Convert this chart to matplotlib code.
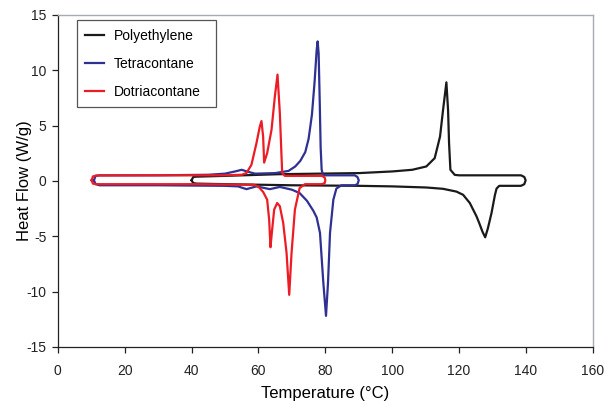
import matplotlib
matplotlib.use("Agg")
import matplotlib.pyplot as plt

plt.rcParams["font.family"] = ["Liberation Sans", "DejaVu Sans"]
plt.rcParams["axes.unicode_minus"] = False

# DSC loops: heating trace (upper) left -> right, then cooling trace (lower) right -> left
pe_temp = [40.0, 40.5, 41.5, 50, 66, 90, 100, 106, 110.2, 112.7, 114.3, 115.2, 116.2,
           116.7, 117.0, 117.4, 118.7, 120, 138.5, 139.5, 139.9, 139.5, 138.5, 132.0,
           131.2, 130.7, 129.7, 128.6, 127.8, 127.0, 126.0, 125.2, 123.2, 121.2, 119.2,
           115.2, 110.2, 100, 90, 70, 50, 41.5, 40.5, 40.0]
pe_flow = [0.05, 0.35, 0.38, 0.45, 0.6, 0.7, 0.85, 1.0, 1.3, 2.05, 4.0, 6.4, 8.9,
           6.4, 3.4, 1.0, 0.54, 0.5, 0.5, 0.35, 0.05, -0.3, -0.45, -0.45,
           -0.7, -1.3, -2.9, -4.3, -5.1, -4.6, -3.8, -3.2, -2.0, -1.26, -0.97,
           -0.72, -0.6, -0.5, -0.45, -0.4, -0.3, -0.25, -0.2, 0.05]

c40_temp = [10.8, 11.3, 12.5, 30, 45, 50, 53, 55, 56.5, 59, 65, 69, 71, 72.5, 74, 75,
            76, 76.8, 77.4, 77.7, 78.0, 78.3, 78.6, 78.9, 79.3, 80, 88.8, 89.6, 90.0,
            89.6, 88.8, 84.8, 83.3, 82.4, 81.4, 80.8, 80.2, 79.4, 78.4, 77.4, 76.4,
            74.5, 72.3, 70, 66.4, 63.4, 59.4, 56.4, 53.9, 50, 30, 12.5, 11.3, 10.8]
c40_flow = [0.05, 0.45, 0.5, 0.5, 0.55, 0.65, 0.85, 1.0, 0.85, 0.65, 0.7, 0.9, 1.3,
            1.8, 2.6, 3.8, 6.0, 9.0, 11.8, 12.6, 11.5, 7.5, 3.0, 1.0, 0.55, 0.5, 0.5,
            0.35, 0.05, -0.3, -0.4, -0.4, -0.7, -1.7, -4.7, -9.2, -12.2, -9.2, -4.7,
            -3.3, -2.7, -1.8, -1.1, -0.8, -0.55, -0.75, -0.5, -0.75, -0.5, -0.45,
            -0.4, -0.4, -0.3, 0.05]

c32_temp = [10.1, 10.5, 11.5, 30, 50, 55, 56.4, 57.9, 59.4, 60.4, 60.9, 61.4, 61.7,
            62.6, 63.9, 64.9, 65.7, 66.4, 66.9, 67.1, 67.9, 79.0, 79.8, 80.0, 79.8,
            79.0, 73.9, 72.3, 70.9, 69.9, 69.2, 68.4, 67.4, 66.4, 65.6, 64.7, 64.0,
            63.6, 63.2, 62.6, 61.4, 59.9, 58.5, 40, 11.5, 10.5, 10.1]
c32_flow = [0.05, 0.4, 0.48, 0.5, 0.5, 0.55, 0.7, 1.45, 3.4, 4.9, 5.4, 4.0, 1.65,
            2.5, 4.6, 7.6, 9.6, 6.1, 2.2, 0.7, 0.45, 0.45, 0.3, 0.05, -0.2, -0.3,
            -0.3, -0.66, -2.6, -6.5, -10.3, -6.5, -3.8, -2.3, -2.0, -2.6, -4.7,
            -6.0, -3.5, -1.7, -1.0, -0.5, -0.35, -0.3, -0.3, -0.25, 0.05]

fig, ax = plt.subplots(figsize=(6.15, 4.01), dpi=100)
fig.subplots_adjust(left=0.094, right=0.964, top=0.963, bottom=0.135)

ax.plot(pe_temp, pe_flow, color="#1a1a1a", lw=1.6, label="Polyethylene")
ax.plot(c40_temp, c40_flow, color="#2e3192", lw=1.6, label="Tetracontane")
ax.plot(c32_temp, c32_flow, color="#ed1c24", lw=1.6, label="Dotriacontane")

ax.set_xlim(0, 160)
ax.set_ylim(-15, 15)
ax.set_xticks(range(0, 161, 20))
ax.set_yticks(range(-15, 16, 5))
ax.tick_params(labelsize=10, length=4, width=0.9, colors="#222222")
ax.tick_params(axis="x", pad=8.5)
ax.tick_params(axis="y", pad=4.3)
ax.set_xlabel("Temperature (°C)", fontsize=12, labelpad=5.5)
ax.set_ylabel("Heat Flow (W/g)", fontsize=12)
ax.yaxis.set_label_coords(-0.049, 0.5)

for side in ["left", "bottom"]:
    ax.spines[side].set_color("#222222")
    ax.spines[side].set_linewidth(0.9)
for side in ["top", "right"]:
    ax.spines[side].set_color("#a8abb0")
    ax.spines[side].set_linewidth(1.0)

leg = ax.legend(loc="upper left", bbox_to_anchor=(0.035, 0.983, 0.26, 0.0),
                mode="expand", borderaxespad=0,
                fontsize=10, fancybox=False, edgecolor="#555555", framealpha=1,
                handlelength=1.4, handletextpad=0.7, labelspacing=1.0, borderpad=0.6)
leg.get_frame().set_linewidth(0.9)

plt.savefig("out.png", dpi=100)
